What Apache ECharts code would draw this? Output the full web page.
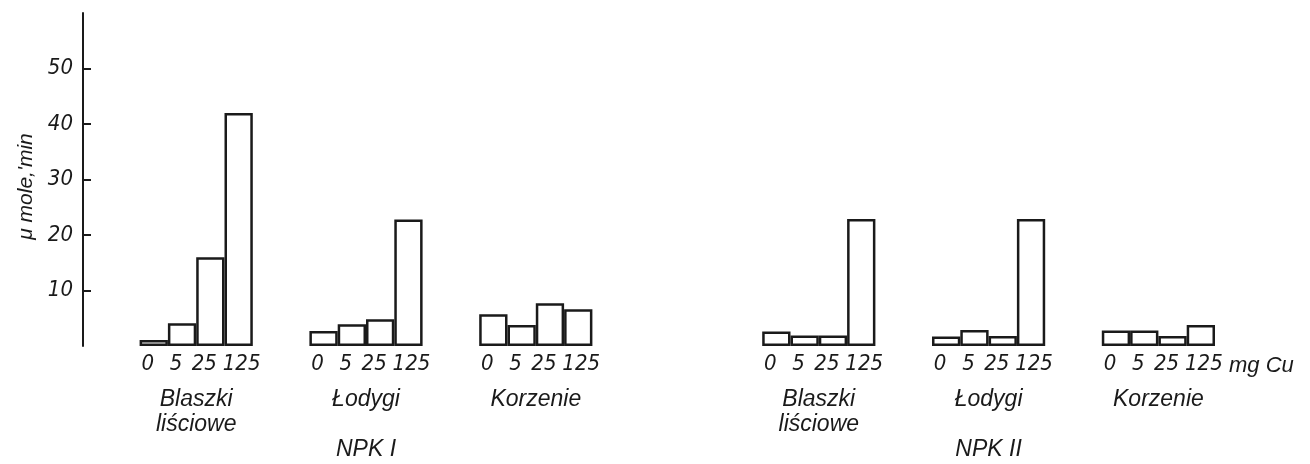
<!DOCTYPE html>
<html>
<head>
<meta charset="utf-8">
<script src="https://cdn.jsdelivr.net/npm/echarts@6/dist/echarts.min.js"></script>
<style>
  html, body { margin: 0; padding: 0; background: #fff; }
  #chart { width: 1310px; height: 464px; }
</style>
</head>
<body>
<div id="chart"></div>
<script>
// dawki miedzi (mg Cu) pod kazdym slupkiem
var doses = ['0', '5', '25', '125'];
// organy roslin, dwie serie nawozenia
var organs = ['Blaszki\nliściowe', 'Łodygi', 'Korzenie'];
var treatments = ['NPK I', 'NPK II'];

// wartosci w μ mole/min
var npk1Blaszki = [1.1, 4.1, 16.0, 42.0];
var npk1Lodygi = [2.7, 3.9, 4.8, 22.8];
var npk1Korzenie = [5.7, 3.8, 7.7, 6.6];
var npk2Blaszki = [2.6, 1.9, 1.9, 22.9];
var npk2Lodygi = [1.7, 2.9, 1.8, 22.9];
var npk2Korzenie = [2.8, 2.8, 1.8, 3.8];

var yTicks = [10, 20, 30, 40, 50];

// puste miejsca miedzy grupami (w szerokosciach slupka)
var leadGap = 2;
var groupGap = 2;
var treatmentGap = 6;

var groups = [
    [npk1Blaszki, npk1Lodygi, npk1Korzenie],
    [npk2Blaszki, npk2Lodygi, npk2Korzenie]
];

var categories = [];
var values = [];
var groupCenters = [];
var groupNames = [];

function addEmpty(n) {
    for (var k = 0; k < n; k++) {
        categories.push('');
        values.push(null);
    }
}

addEmpty(leadGap);
for (var t = 0; t < groups.length; t++) {
    if (t > 0) addEmpty(treatmentGap);
    for (var g = 0; g < groups[t].length; g++) {
        if (g > 0) addEmpty(groupGap);
        groupCenters.push(categories.length + doses.length / 2);
        var name = organs[g];
        if (g === 1) name += '\n\n' + treatments[t];
        groupNames.push(name);
        for (var d = 0; d < doses.length; d++) {
            categories.push(doses[d]);
            values.push(groups[t][g][d]);
        }
    }
}

var ink = '#1a1a1a';
var narrow = '"Liberation Sans Narrow", "DejaVu Sans Condensed", sans-serif';
var sans = '"Liberation Sans", "DejaVu Sans", sans-serif';

var digitStyle = { fontFamily: narrow, fontStyle: 'italic', fontSize: 22, color: ink };

var chart = echarts.init(document.getElementById('chart'));

var option = {
    animation: false,
    backgroundColor: '#fff',
    grid: {
        left: 83,
        right: 95,
        top: 13,
        bottom: 118
    },
    xAxis: [
        {
            type: 'category',
            data: categories,
            boundaryGap: true,
            axisLine: { show: false },
            axisTick: { show: false },
            axisLabel: {
                interval: 0,
                margin: 7,
                color: ink,
                fontFamily: narrow,
                fontStyle: 'italic',
                fontSize: 22,
                // '125' jest szerszy, reszta cyfr lekko w lewo jak w oryginale
                formatter: function (v) {
                    if (v === '') return '';
                    return (v === '125' ? '{r|' : '{l|') + v + '}';
                },
                rich: {
                    l: Object.assign({ padding: [0, 12, 0, 0] }, digitStyle),
                    r: Object.assign({ padding: [0, 0, 0, 6] }, digitStyle)
                }
            },
            name: 'mg Cu',
            nameLocation: 'end',
            nameGap: 14,
            nameTextStyle: {
                color: ink,
                fontFamily: sans,
                fontStyle: 'italic',
                fontSize: 22,
                align: 'left',
                verticalAlign: 'top',
                padding: [9, 0, 0, 0]
            }
        },
        {
            type: 'value',
            position: 'bottom',
            min: 0,
            max: categories.length,
            axisLine: { show: false },
            axisTick: { show: false },
            splitLine: { show: false },
            axisLabel: {
                customValues: groupCenters,
                formatter: function (v) {
                    var i = groupCenters.indexOf(v);
                    return i >= 0 ? groupNames[i] : '';
                },
                margin: 41,
                color: ink,
                fontFamily: sans,
                fontStyle: 'italic',
                fontSize: 23,
                lineHeight: 25
            }
        }
    ],
    yAxis: {
        type: 'value',
        min: 0,
        max: 60,
        interval: 10,
        name: 'μ mole,\'min',
        nameLocation: 'middle',
        nameGap: 33,
        nameRotate: 90,
        nameTextStyle: {
            color: ink,
            fontFamily: sans,
            fontStyle: 'italic',
            fontSize: 21,
            padding: [0, 14, 0, 0]
        },
        axisLine: {
            show: true,
            lineStyle: { color: ink, width: 2 }
        },
        axisTick: {
            show: true,
            inside: true,
            length: 8,
            customValues: yTicks,
            lineStyle: { color: ink, width: 2 }
        },
        axisLabel: {
            customValues: yTicks,
            margin: 10,
            color: ink,
            fontFamily: narrow,
            fontStyle: 'italic',
            fontSize: 22
        },
        splitLine: { show: false }
    },
    series: [
        {
            type: 'bar',
            xAxisIndex: 0,
            data: values,
            barCategoryGap: '0%',
            barWidth: '100%',
            itemStyle: {
                color: '#fff',
                borderColor: ink,
                borderWidth: 2.5
            },
            silent: true
        }
    ]
};

chart.setOption(option);
</script>
</body>
</html>
